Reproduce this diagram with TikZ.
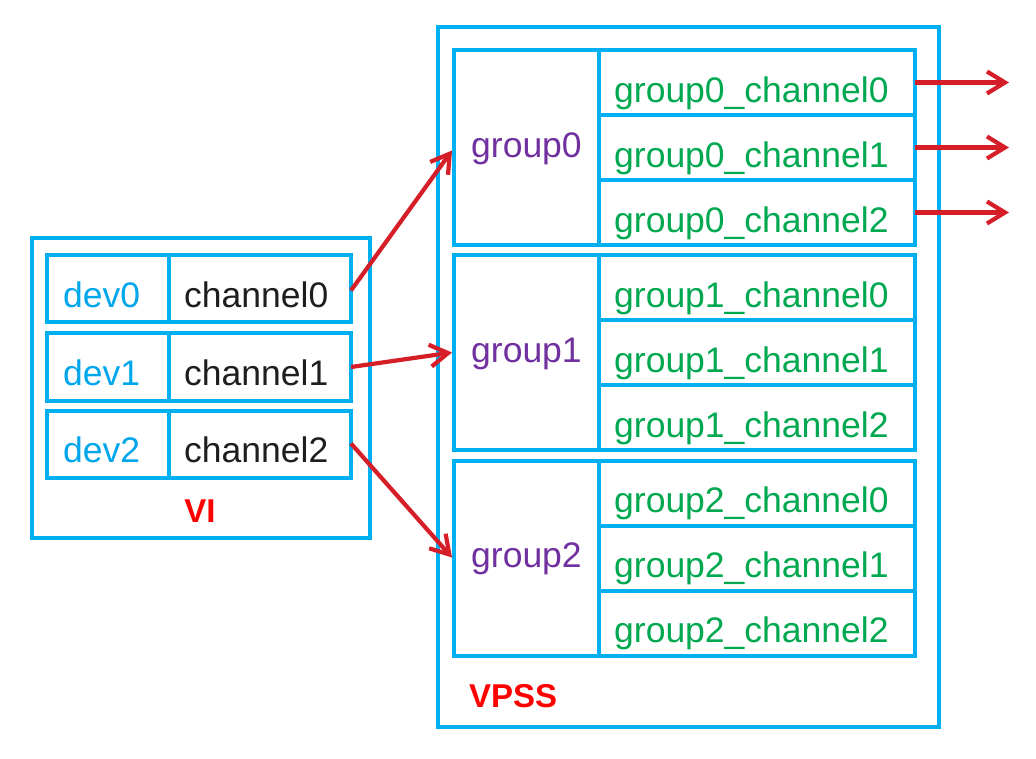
\documentclass[tikz,border=0pt]{standalone}
\usepackage{fontspec}
\setmainfont{Liberation Sans}
\usetikzlibrary{arrows.meta,calc}
\definecolor{boxblue}{RGB}{0,176,240}
\definecolor{devblue}{RGB}{0,166,235}
\definecolor{chblack}{RGB}{30,30,30}
\definecolor{grppurple}{RGB}{112,48,160}
\definecolor{chgreen}{RGB}{0,168,80}
\definecolor{arrred}{RGB}{214,30,40}
\definecolor{lblred}{RGB}{255,0,0}
\tikzset{
  cell/.style={draw=boxblue, line width=3.8pt, inner sep=0pt, outer sep=0pt, anchor=north west},
  txt/.style={inner sep=0pt, anchor=base west, font=\fontsize{35.5}{40}\selectfont},
  devtxt/.style={txt, text=devblue},
  chtxt/.style={txt, text=chblack},
  grptxt/.style={txt, text=grppurple},
  gchtxt/.style={txt, text=chgreen},
  lbl/.style={inner sep=0pt, text=lblred, font=\fontsize{33}{38}\selectfont\bfseries},
  arr/.style={draw=arrred, line width=4.2pt, -{Straight Barb[length=18pt,width=22pt,line width=4.2pt]}}
}
\begin{document}
\begin{tikzpicture}[x=1pt,y=-1pt]
\useasboundingbox (0,0) rectangle (1036,758);
\fill[white] (0,0) rectangle (1036,758);
% VI
\node[cell, minimum width=338pt, minimum height=300pt] (vi) at (32,238) {};
\node[cell, minimum width=122pt, minimum height=67pt] (d0) at (47,255) {};
\node[cell, minimum width=182pt, minimum height=67pt] (ch0) at (169,255) {};
\node[cell, minimum width=122pt, minimum height=68pt] (d1) at (47,333) {};
\node[cell, minimum width=182pt, minimum height=68pt] (ch1) at (169,333) {};
\node[cell, minimum width=122pt, minimum height=67pt] (d2) at (47,411) {};
\node[cell, minimum width=182pt, minimum height=67pt] (ch2) at (169,411) {};
\node[devtxt] (td0) at (63,307) {dev0};
\node[devtxt] (td1) at (63,385) {dev1};
\node[devtxt] (td2) at (63,462) {dev2};
\node[chtxt] (tc0) at (184,307) {channel0};
\node[chtxt] (tc1) at (184,385) {channel1};
\node[chtxt] (tc2) at (184,462) {channel2};
\node[lbl, anchor=base] (vilbl) at (200,522) {VI};
% VPSS
\node[cell, minimum width=501pt, minimum height=700pt] (vpss) at (438,27) {};
% group0
\node[cell, minimum width=145pt, minimum height=195pt] (g0) at (454,50) {};
\node[cell, minimum width=316pt, minimum height=65pt] (g0c0) at (599,50) {};
\node[cell, minimum width=316pt, minimum height=65pt] (g0c1) at (599,115) {};
\node[cell, minimum width=316pt, minimum height=65pt] (g0c2) at (599,180) {};
% group1
\node[cell, minimum width=145pt, minimum height=195pt] (g1) at (454,255) {};
\node[cell, minimum width=316pt, minimum height=65pt] (g1c0) at (599,255) {};
\node[cell, minimum width=316pt, minimum height=65pt] (g1c1) at (599,320) {};
\node[cell, minimum width=316pt, minimum height=65pt] (g1c2) at (599,385) {};
% group2
\node[cell, minimum width=145pt, minimum height=195pt] (g2) at (454,461) {};
\node[cell, minimum width=316pt, minimum height=65pt] (g2c0) at (599,461) {};
\node[cell, minimum width=316pt, minimum height=65pt] (g2c1) at (599,526) {};
\node[cell, minimum width=316pt, minimum height=65pt] (g2c2) at (599,591) {};
% texts
\node[grptxt] (tg0) at (471,157) {group0};
\node[grptxt] (tg1) at (471,362) {group1};
\node[grptxt] (tg2) at (471,567) {group2};
\node[gchtxt] (t00) at (614,102) {group0\_channel0};
\node[gchtxt] (t01) at (614,167) {group0\_channel1};
\node[gchtxt] (t02) at (614,232) {group0\_channel2};
\node[gchtxt] (t10) at (614,307) {group1\_channel0};
\node[gchtxt] (t11) at (614,372) {group1\_channel1};
\node[gchtxt] (t12) at (614,437) {group1\_channel2};
\node[gchtxt] (t20) at (614,512) {group2\_channel0};
\node[gchtxt] (t21) at (614,577) {group2\_channel1};
\node[gchtxt] (t22) at (614,642) {group2\_channel2};
\node[lbl, anchor=base west] (vpsslbl) at (469,707) {VPSS};
% arrows
\draw[arr] ($(ch0.east)+(0,2)$) -- ($(g0.west)+(-2,3)$);
\draw[arr] (ch1.east) -- ($(g1.west)+(-2,0)$);
\draw[arr] ($(ch2.east)+(0,-1)$) -- ($(g2.west)+(-2,-1)$);
\coordinate (o0) at ($(g0c0.east)+(94,0)$);
\coordinate (o1) at ($(g0c1.east)+(94,0)$);
\coordinate (o2) at ($(g0c2.east)+(94,0)$);
\draw[arr] (g0c0.east) -- (o0);
\draw[arr] (g0c1.east) -- (o1);
\draw[arr] (g0c2.east) -- (o2);
\end{tikzpicture}
\end{document}
